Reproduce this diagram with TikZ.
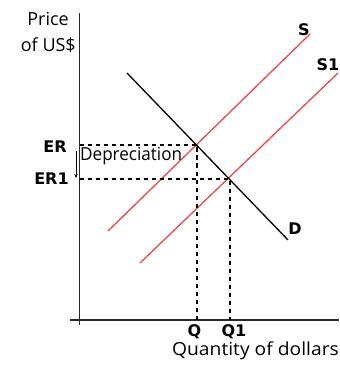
\documentclass[tikz,border=0pt]{standalone}
\usepackage{fontspec}
\setmainfont{Open Sans}
\newfontfamily\labelfont{DejaVu Sans}
\usetikzlibrary{arrows.meta}
\definecolor{supred}{RGB}{236,72,72}
\definecolor{axisgray}{RGB}{40,40,40}
\begin{document}
\begin{tikzpicture}[x=1pt,y=-1pt,
  axis/.style={draw=axisgray,line width=1.8pt},
  supply/.style={draw=supred,line width=1.3pt},
  demand/.style={draw=black,line width=1.3pt},
  guide/.style={draw=black,line width=1.1pt,dash pattern=on 4.5pt off 3.5pt},
  lbl/.style={inner sep=0pt,font=\fontsize{18}{20}\selectfont},
  blbl/.style={inner sep=0pt,font=\labelfont\fontsize{16}{19}\selectfont\bfseries},
]
\useasboundingbox (0,0) rectangle (339,371);
% axes
\coordinate (ytop) at (79.5,13);
\coordinate (ybot) at (79.5,325);
\coordinate (xleft) at (70,320);
\coordinate (xright) at (339,320);
\draw[axis] (ytop) -- (ybot);
\draw[axis] (xleft) -- (xright);
% curves
\coordinate (s0) at (108,231);
\coordinate (s1) at (310,34);
\coordinate (t0) at (140,263);
\coordinate (t1) at (338,73);
\coordinate (d0) at (127,73);
\coordinate (d1) at (288,240);
\draw[supply] (s0) -- (s1);
\draw[supply] (t0) -- (t1);
\draw[demand] (d0) -- (d1);
% equilibrium points
\coordinate (e0) at (197,145);
\coordinate (e1) at (230,179);
\coordinate (er0) at (79.5,145);
\coordinate (er1) at (79.5,179);
\coordinate (q0) at (197,320);
\coordinate (q1) at (230,320);
\draw[guide] (er0) -- (e0) -- (q0);
\draw[guide] (er1) -- (e1) -- (q1);
% depreciation arrow
\coordinate (a0) at (76,151);
\coordinate (a1) at (76,178);
\draw[line width=0.8pt,-{Stealth[length=4pt,width=3.5pt]}] (a0) -- (a1);
% labels
\node[lbl,anchor=east] (price) at (69,19) {Price};
\node[lbl,anchor=east] (usd) at (76,45) {of US\$};
\node[blbl] (ER) at (55,146.5) {ER};
\node[blbl] (ER1) at (51.5,178.5) {ER1};
\node[lbl,anchor=west] (dep) at (80,156) {\scalebox{0.95}[1]{Depreciation}};
\node[blbl] (Q) at (194.5,332) {Q};
\node[blbl] (Q1) at (234,332) {Q1};
\node[lbl,anchor=east] (qty) at (339,351) {\scalebox{1.07}[1]{Quantity of dollars}};
\node[blbl] (S) at (304,30) {S};
\node[blbl] (S1) at (328,65) {S1};
\node[blbl] (D) at (295,229) {D};
\end{tikzpicture}
\end{document}
